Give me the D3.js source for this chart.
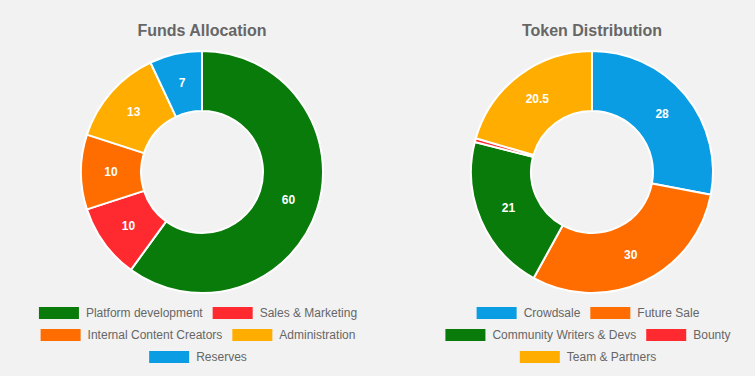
<!DOCTYPE html>
<html>
<head>
<meta charset="utf-8">
<script src="https://cdn.jsdelivr.net/npm/d3@7"></script>
<style>
  body { margin: 0; background: #f2f2f2; }
  svg { display: block; }
</style>
</head>
<body>
<div id="chart"></div>
<script>
// data
const fundsLabels = ["Platform development", "Sales & Marketing", "Internal Content Creators", "Administration", "Reserves"];
const fundsValues = [60, 10, 10, 13, 7];
const fundsColors = ["#087b0a", "#ff2a2f", "#ff6d00", "#ffad00", "#0a9de3"];

const tokenLabels = ["Crowdsale", "Future Sale", "Community Writers & Devs", "Bounty", "Team & Partners"];
const tokenValues = [28, 30, 21, 0.5, 20.5];
const tokenColors = ["#0a9de3", "#ff6d00", "#087b0a", "#ff2a2f", "#ffad00"];

const W = 755, H = 376;
const FONT = "'Liberation Sans', Arial, sans-serif";

const svg = d3.select("#chart").append("svg")
    .attr("width", W)
    .attr("height", H)
    .style("font-family", FONT);

svg.append("rect").attr("width", W).attr("height", H).attr("fill", "#f2f2f2");

function drawDonut(cx, title, labels, values, colors) {
    const outerR = 121, innerR = 61;
    const cy = 172;

    svg.append("text")
        .attr("x", cx)
        .attr("y", 36)
        .attr("text-anchor", "middle")
        .attr("font-size", 16)
        .attr("font-weight", "bold")
        .attr("fill", "#666")
        .text(title);

    const color = d3.scaleOrdinal().domain(labels).range(colors);

    const pie = d3.pie().sort(null).value(d => d.value);
    const arcFn = d3.arc().innerRadius(innerR).outerRadius(outerR);
    const labelArc = d3.arc().innerRadius(innerR).outerRadius(outerR);

    const data = labels.map((l, i) => ({label: l, value: values[i]}));

    const g = svg.append("g").attr("transform", `translate(${cx},${cy})`);

    const arcs = g.selectAll(".arc")
        .data(pie(data))
        .enter().append("g")
        .attr("class", "arc");

    arcs.append("path")
        .attr("d", arcFn)
        .attr("fill", d => color(d.data.label))
        .attr("stroke", "#fff")
        .attr("stroke-width", 2)
        .attr("stroke-linejoin", "round");

    arcs.filter(d => d.data.value >= 2)
        .append("text")
        .attr("transform", d => "translate(" + labelArc.centroid(d) + ")")
        .attr("dy", ".35em")
        .attr("text-anchor", "middle")
        .attr("font-size", 12)
        .attr("font-weight", "bold")
        .attr("fill", "#fff")
        .text(d => d.data.value);

    // legend, chart.js style: wrap rows, center each row
    const boxW = 40, boxH = 12, gapText = 7, itemPad = 10, maxW = 360;
    const tmp = svg.append("text").attr("font-size", 12);
    const items = labels.map(l => {
        tmp.text(l);
        const tw = tmp.node().getComputedTextLength();
        return {label: l, w: boxW + gapText + tw};
    });
    tmp.remove();

    const rows = [];
    let cur = [], curW = 0;
    items.forEach(it => {
        const add = cur.length ? itemPad + it.w : it.w;
        if (cur.length && curW + add > maxW) {
            rows.push({items: cur, w: curW});
            cur = [it]; curW = it.w;
        } else {
            cur.push(it); curW += add;
        }
    });
    if (cur.length) rows.push({items: cur, w: curW});

    const leg = svg.append("g");
    rows.forEach((row, ri) => {
        let x = cx - 4 - row.w / 2;
        const y = 307 + ri * 22;
        row.items.forEach(it => {
            leg.append("rect")
                .attr("x", x).attr("y", y)
                .attr("width", boxW).attr("height", boxH)
                .attr("fill", color(it.label));
            leg.append("text")
                .attr("x", x + boxW + gapText)
                .attr("y", y + boxH / 2)
                .attr("dy", ".35em")
                .attr("font-size", 12)
                .attr("fill", "#666")
                .text(it.label);
            x += it.w + itemPad;
        });
    });
}

drawDonut(202, "Funds Allocation", fundsLabels, fundsValues, fundsColors);
drawDonut(592, "Token Distribution", tokenLabels, tokenValues, tokenColors);
</script>
</body>
</html>
